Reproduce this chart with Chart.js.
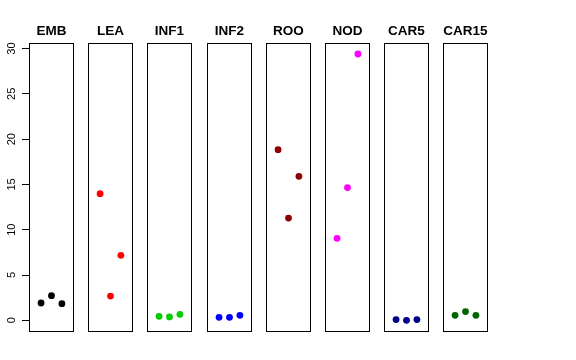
<!DOCTYPE html>
<html>
<head>
<meta charset="utf-8">
<script src="https://cdn.jsdelivr.net/npm/chart.js@4"></script>
<style>
  body { margin: 0; background: #fff; }
  #wrap { position: relative; width: 576px; height: 360px; overflow: hidden; }
  #wrap canvas { position: absolute; top: 0; }
</style>
</head>
<body>
<div id="wrap"></div>
<script>
const categories = ['EMB', 'LEA', 'INF1', 'INF2', 'ROO', 'NOD', 'CAR5', 'CAR15'];
const replicates = [1, 2, 3];
const emb = [1.91, 2.72, 1.84];
const lea = [13.98, 2.68, 7.17];
const inf1 = [0.44, 0.37, 0.66];
const inf2 = [0.33, 0.33, 0.55];
const roo = [18.84, 11.29, 15.89];
const nod = [9.05, 14.65, 29.4];
const car5 = [0.08, 0.0, 0.08];
const car15 = [0.55, 0.96, 0.55];
const yTicks = [0, 5, 10, 15, 20, 25, 30];

const series = [emb, lea, inf1, inf2, roo, nod, car5, car15];
const colors = ['#000000', '#FF0000', '#00CD00', '#0000FF', '#8B0000', '#FF00FF', '#00008B', '#006400'];

const FONT = '"Liberation Sans", Arial, Helvetica, sans-serif';
const AXIS_W = 29;      // space for the shared y axis
const PANEL_W = 45;
const STEP = 59.2;

const boxPlugin = {
  id: 'box',
  afterDraw(chart) {
    const { ctx, chartArea: a } = chart;
    ctx.save();
    ctx.strokeStyle = '#000';
    ctx.lineWidth = 1;
    ctx.strokeRect(Math.round(a.left) + 0.5, Math.round(a.top) + 0.5,
      Math.round(a.right - a.left) - 1, Math.round(a.bottom - a.top));
    ctx.restore();
  }
};

const wrap = document.getElementById('wrap');

categories.forEach((name, i) => {
  const first = i === 0;
  const left = Math.round(AXIS_W + STEP * i);
  const canvas = document.createElement('canvas');
  // first canvas is symmetric around its panel so the title stays centred
  const cx = first ? 0 : left - 2;
  const cw = first ? AXIS_W * 2 + PANEL_W : PANEL_W + 4;
  canvas.width = cw;
  canvas.height = 360;
  canvas.style.left = cx + 'px';
  canvas.style.width = cw + 'px';
  canvas.style.height = '360px';
  wrap.appendChild(canvas);

  const scales = {
    x: { type: 'linear', display: false, min: -0.16, max: 4.16 },
    y: {
      type: 'linear',
      display: first,
      min: -1.18,
      max: 30.58,
      afterBuildTicks: s => { s.ticks = yTicks.map(v => ({ value: v })); },
      afterFit: s => { if (first) s.width = AXIS_W; },
      border: { display: false },
      grid: { drawOnChartArea: false, drawTicks: true, tickLength: 7, color: '#000' },
      ticks: {
        color: '#000',
        font: { family: FONT, size: 11 },
        minRotation: 90,
        maxRotation: 90,
        crossAlign: 'center',
        padding: 4,
      },
    },
  };
  if (first) {
    // empty right-hand spacer so the panel sits in the middle of the canvas
    scales.pad = {
      type: 'linear',
      position: 'right',
      display: true,
      border: { display: false },
      grid: { display: false },
      ticks: { display: false },
      afterFit: s => { s.width = AXIS_W; },
    };
  }

  new Chart(canvas, {
    type: 'scatter',
    data: {
      datasets: [{
        label: name,
        data: replicates.map((x, k) => ({ x, y: series[i][k] })),
        backgroundColor: colors[i],
        borderWidth: 0,
        pointRadius: 3.4,
      }]
    },
    options: {
      responsive: false,
      animation: false,
      events: [],
      layout: {
        autoPadding: false,
        padding: { left: first ? 0 : 2, right: first ? 0 : 2, top: 0, bottom: 29 },
      },
      plugins: {
        legend: { display: false },
        tooltip: { enabled: false },
        title: {
          display: true,
          text: name,
          color: '#000',
          font: { family: FONT, size: 13.5, weight: 'bold' },
          padding: { top: 23.5, bottom: 3.6 },
        },
      },
      scales,
    },
    plugins: [boxPlugin],
  });
});
</script>
</body>
</html>
